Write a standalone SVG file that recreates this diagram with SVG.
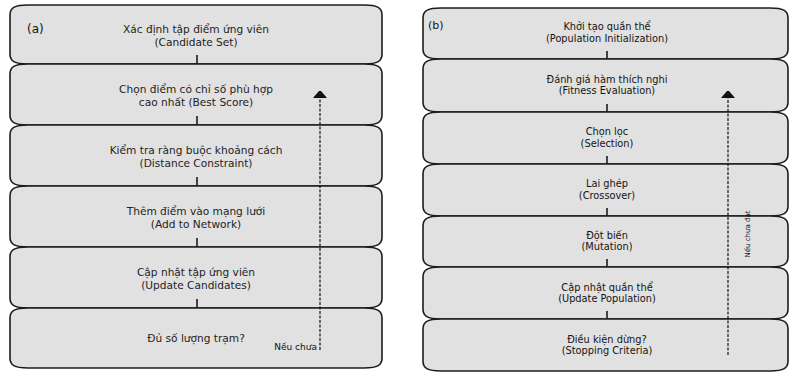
<svg xmlns="http://www.w3.org/2000/svg" width="790" height="374" viewBox="0 0 790 374">
<style>
.box{fill:#e1e1e1;stroke:#1c1c1c;stroke-width:1.6}
.tl{font-family:"DejaVu Sans",sans-serif;font-size:10.6px;fill:#1e1e1e;text-anchor:middle}
.tr{font-family:"DejaVu Sans",sans-serif;font-size:9.8px;fill:#141414;text-anchor:middle}
.lab{font-family:"DejaVu Sans",sans-serif;fill:#111}
.tick{stroke:#1c1c1c;stroke-width:1.6;fill:none}
.dash{stroke:#111;stroke-width:1.2;fill:none;stroke-dasharray:3 1.5}
</style>
<defs>
<marker id="ah" markerUnits="userSpaceOnUse" markerWidth="8" markerHeight="14" viewBox="0 0 8 14" refX="0" refY="7" orient="auto">
<path d="M0,0 L7,6 L7,8 L0,14 Z" fill="#111"/>
</marker>
</defs>
<rect width="790" height="374" fill="#fff"/>
<g id="panel-a">
<g id="a1"><path class="box" d="M28,5 H364 C378,5 382,8 382,15 V54 C382,61 378,64 364,64 H28 C14,64 10,61 10,54 V15 C10,8 14,5 28,5 Z"/><text class="tl" x="196" y="32.5">Xác định tập điểm ứng viên</text><text class="tl" x="196" y="45.5">(Candidate Set)</text></g>
<g id="a2"><path class="box" d="M28,64 H364 C378,64 382,67 382,74 V115 C382,122 378,125 364,125 H28 C14,125 10,122 10,115 V74 C10,67 14,64 28,64 Z"/><text class="tl" x="196" y="93">Chọn điểm có chỉ số phù hợp</text><text class="tl" x="196" y="106">cao nhất (Best Score)</text></g>
<g id="a3"><path class="box" d="M28,125 H364 C378,125 382,128 382,135 V176 C382,183 378,186 364,186 H28 C14,186 10,183 10,176 V135 C10,128 14,125 28,125 Z"/><text class="tl" x="196" y="154">Kiểm tra ràng buộc khoảng cách</text><text class="tl" x="196" y="167">(Distance Constraint)</text></g>
<g id="a4"><path class="box" d="M28,186 H364 C378,186 382,189 382,196 V237 C382,244 378,247 364,247 H28 C14,247 10,244 10,237 V196 C10,189 14,186 28,186 Z"/><text class="tl" x="196" y="214.5">Thêm điểm vào mạng lưới</text><text class="tl" x="196" y="227.5">(Add to Network)</text></g>
<g id="a5"><path class="box" d="M28,247 H364 C378,247 382,250 382,257 V298 C382,305 378,308 364,308 H28 C14,308 10,305 10,298 V257 C10,250 14,247 28,247 Z"/><text class="tl" x="196" y="275.5">Cập nhật tập ứng viên</text><text class="tl" x="196" y="288.5">(Update Candidates)</text></g>
<g id="a6"><path class="box" d="M28,308 H364 C378,308 382,311 382,318 V358 C382,365 378,368 364,368 H28 C14,368 10,365 10,358 V318 C10,311 14,308 28,308 Z"/><text class="tl" x="196" y="342">Đủ số lượng trạm?</text></g>
<text class="lab" x="27" y="33" font-size="12">(a)</text>
</g>
<g id="panel-b">
<g id="b1"><path class="box" d="M441,8 H770 C784,8 788,11 788,18 V49 C788,56 784,59 770,59 H441 C427,59 423,56 423,49 V18 C423,11 427,8 441,8 Z"/><text class="tr" x="607" y="30">Khởi tạo quần thể</text><text class="tr" x="607" y="41.5">(Population Initialization)</text></g>
<g id="b2"><path class="box" d="M441,59 H770 C784,59 788,62 788,69 V102 C788,109 784,112 770,112 H441 C427,112 423,109 423,102 V69 C423,62 427,59 441,59 Z"/><text class="tr" x="607" y="82.5">Đánh giá hàm thích nghi</text><text class="tr" x="607" y="94">(Fitness Evaluation)</text></g>
<g id="b3"><path class="box" d="M441,112 H770 C784,112 788,115 788,122 V154 C788,161 784,164 770,164 H441 C427,164 423,161 423,154 V122 C423,115 427,112 441,112 Z"/><text class="tr" x="607" y="135">Chọn lọc</text><text class="tr" x="607" y="146.5">(Selection)</text></g>
<g id="b4"><path class="box" d="M441,164 H770 C784,164 788,167 788,174 V206 C788,213 784,216 770,216 H441 C427,216 423,213 423,206 V174 C423,167 427,164 441,164 Z"/><text class="tr" x="607" y="187">Lai ghép</text><text class="tr" x="607" y="198.5">(Crossover)</text></g>
<g id="b5"><path class="box" d="M441,216 H770 C784,216 788,219 788,226 V257 C788,264 784,267 770,267 H441 C427,267 423,264 423,257 V226 C423,219 427,216 441,216 Z"/><text class="tr" x="607" y="238.5">Đột biến</text><text class="tr" x="607" y="250">(Mutation)</text></g>
<g id="b6"><path class="box" d="M441,267 H770 C784,267 788,270 788,277 V309 C788,316 784,319 770,319 H441 C427,319 423,316 423,309 V277 C423,270 427,267 441,267 Z"/><text class="tr" x="607" y="290.5">Cập nhật quần thể</text><text class="tr" x="607" y="302">(Update Population)</text></g>
<g id="b7"><path class="box" d="M441,319 H770 C784,319 788,322 788,329 V361 C788,368 784,371 770,371 H441 C427,371 423,368 423,361 V329 C423,322 427,319 441,319 Z"/><text class="tr" x="607" y="342.5">Điều kiện dừng?</text><text class="tr" x="607" y="354">(Stopping Criteria)</text></g>
<text class="lab" x="428" y="29" font-size="11">(b)</text>
</g>
<g id="connectors">
<path class="tick" d="M197,55 V64 M197,116 V125 M197,177 V186 M197,238 V247 M197,299 V308"/>
<path class="tick" d="M607,51 V59 M607,104 V112 M607,156 V164 M607,208 V216 M607,259 V267 M607,311 V319"/>
<path class="dash" d="M320,350 V98" marker-end="url(#ah)"/>
<text class="lab" x="317" y="350" font-size="9" text-anchor="end">Nếu chưa</text>
<path class="dash" d="M728,355 V98" marker-end="url(#ah)"/>
<text class="lab" font-size="7" text-anchor="middle" transform="translate(750,234) rotate(-90)">Nếu chưa đạt</text>
</g>
</svg>
